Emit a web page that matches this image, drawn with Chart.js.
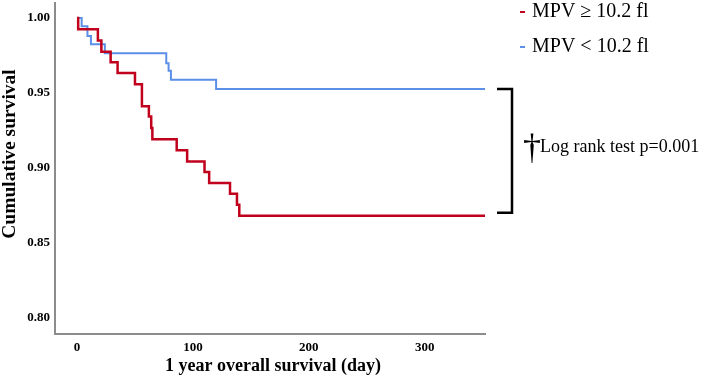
<!DOCTYPE html>
<html>
<head>
<meta charset="utf-8">
<script src="https://cdn.jsdelivr.net/npm/chart.js@4"></script>
<style>
  html, body { margin: 0; padding: 0; background: #fff; }
  #wrap { width: 702px; height: 384px; }
</style>
</head>
<body>
<div id="wrap"><canvas id="km"></canvas></div>
<script>
// Kaplan-Meier steps (day, cumulative survival)
const highDays = [0, 1, 18, 21, 29, 35, 50, 56, 62, 64, 65, 86, 95, 110, 114, 132, 138, 140, 352];
const highSurv = [1.000, 0.9925, 0.9850, 0.9775, 0.9705, 0.9633, 0.9557, 0.9410, 0.9342, 0.9265, 0.9191, 0.9117, 0.9042, 0.8971, 0.8898, 0.8827, 0.8753, 0.8680, 0.8680];
const lowDays = [0, 4, 9, 12, 24, 77, 79, 81, 120, 352];
const lowSurv = [1.000, 0.9944, 0.9880, 0.9825, 0.9764, 0.9698, 0.9647, 0.9587, 0.9525, 0.9525];
const seriesNames = ['MPV \u2265 10.2 fl', 'MPV < 10.2 fl'];
const xTicks = [0, 100, 200, 300];
const yTicks = [0.80, 0.85, 0.90, 0.95, 1.00];
const pText = 'Log rank test p=0.001';
const xTitle = '1 year overall survival (day)';
const yTitle = 'Cumulative survival';

const RED = '#c0001c';
const BLUE = '#5b8fe8';
const SERIF = "'Times New Roman', 'Liberation Serif', serif";

function toPoints(days, surv) {
  return days.map((d, i) => ({ x: d, y: surv[i] }));
}

// titles, legend and the bracket with the log rank note
const extras = {
  id: 'extras',
  afterDraw(chart) {
    const ctx = chart.ctx;
    const ys = chart.scales.y;
    ctx.save();

    // axis titles
    ctx.fillStyle = '#000';
    ctx.font = 'bold 18px ' + SERIF;
    ctx.textAlign = 'center';
    ctx.textBaseline = 'alphabetic';
    ctx.fillText(xTitle, 273, 371);
    ctx.save();
    ctx.translate(15, 154);
    ctx.rotate(-Math.PI / 2);
    ctx.font = 'bold 19.5px ' + SERIF;
    ctx.fillText(yTitle, 0, 0);
    ctx.restore();

    // legend
    ctx.font = '20px ' + SERIF;
    ctx.textAlign = 'left';
    ctx.textBaseline = 'middle';
    [RED, BLUE].forEach((c, i) => {
      const y = 12 + i * 35;
      ctx.strokeStyle = c;
      ctx.lineWidth = 2;
      ctx.beginPath();
      ctx.moveTo(520, y);
      ctx.lineTo(525, y);
      ctx.stroke();
      ctx.fillStyle = '#000';
      ctx.fillText(seriesNames[i], 532, y);
    });

    // bracket between the two final survival levels
    const yTop = ys.getPixelForValue(lowSurv[lowSurv.length - 1]);
    const yBot = ys.getPixelForValue(highSurv[highSurv.length - 1]) - 3;
    ctx.strokeStyle = '#000';
    ctx.lineWidth = 2.5;
    ctx.beginPath();
    ctx.moveTo(497, yTop);
    ctx.lineTo(512, yTop);
    ctx.lineTo(512, yBot);
    ctx.lineTo(497, yBot);
    ctx.stroke();

    ctx.fillStyle = '#000';
    ctx.font = '36px ' + SERIF;
    ctx.textBaseline = 'middle';
    ctx.fillText('\u2020', 523, 150);
    ctx.font = '18px ' + SERIF;
    ctx.fillText(pText, 540, 147);
    ctx.restore();
  }
};

new Chart(document.getElementById('km'), {
  type: 'line',
  data: {
    datasets: [
      { label: seriesNames[0], data: toPoints(highDays, highSurv), borderColor: RED, borderWidth: 2.5 },
      { label: seriesNames[1], data: toPoints(lowDays, lowSurv), borderColor: BLUE, borderWidth: 2 }
    ]
  },
  options: {
    responsive: true,
    maintainAspectRatio: false,
    animation: false,
    layout: { padding: { left: 0, right: 217, top: 3, bottom: 0 } },
    elements: {
      line: { stepped: 'before', fill: false, tension: 0, borderCapStyle: 'butt' },
      point: { radius: 0, hoverRadius: 0 }
    },
    plugins: { legend: { display: false }, tooltip: { enabled: false } },
    scales: {
      x: {
        type: 'linear',
        min: -19,
        max: 352,
        grid: { display: false, drawTicks: false },
        border: { display: true, color: '#8c8c8c', width: 2 },
        ticks: { padding: 6, color: '#000', font: { family: SERIF, size: 13, weight: 'bold' } },
        afterBuildTicks: s => { s.ticks = xTicks.map(v => ({ value: v })); },
        afterFit: s => { s.height = 50; s.paddingLeft = 0; s.paddingRight = 0; }
      },
      y: {
        min: 0.789,
        max: 1.01,
        grid: { display: false, drawTicks: false },
        border: { display: true, color: '#8c8c8c', width: 2 },
        ticks: {
          padding: 5, color: '#000', font: { family: SERIF, size: 13, weight: 'bold' },
          callback: v => v.toFixed(2)
        },
        afterBuildTicks: s => { s.ticks = yTicks.map(v => ({ value: v })); },
        afterFit: s => { s.width = 55; s.paddingTop = 0; s.paddingBottom = 0; }
      }
    }
  },
  plugins: [extras]
});
</script>
</body>
</html>
